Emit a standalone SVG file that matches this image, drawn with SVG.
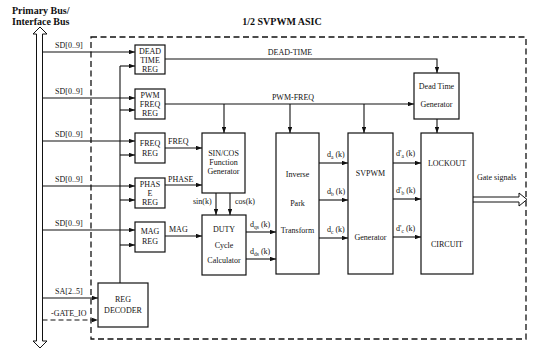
<svg xmlns="http://www.w3.org/2000/svg" width="534" height="349" viewBox="0 0 534 349">
<style>
text{font-family:"Liberation Serif","Times New Roman",serif;fill:#111;}
.t{font-size:8px;}
.b{font-weight:bold;}
.h{font-size:10px;font-weight:bold;}
.c{text-anchor:middle;}
.box{fill:#fff;stroke:#111;stroke-width:1.2;}
.ln{fill:none;stroke:#111;stroke-width:1.1;}
.ar{fill:none;stroke:#111;stroke-width:1.1;marker-end:url(#ah);}
.dash{stroke-dasharray:5 3;}
</style>
<defs>
<marker id="ah" viewBox="0 0 8 6" refX="8" refY="3" markerWidth="6" markerHeight="4.5" orient="auto" markerUnits="userSpaceOnUse">
<path d="M0,0 L8,3 L0,6 Z" fill="#111"/>
</marker>
</defs>
<rect width="534" height="349" fill="#fff"/>

<g id="header">
<text class="h" x="12" y="14">Primary Bus/</text>
<text class="h" x="12" y="25">Interface Bus</text>
<text class="h c" x="282" y="25">1/2 SVPWM ASIC</text>
</g>

<g id="asic-boundary">
<rect x="91" y="37" width="435" height="302" fill="none" stroke="#111" stroke-width="1.3" stroke-dasharray="6 3.5"/>
</g>

<g id="bus">
<path d="M36.5,34 L36.5,341 L33,341 L40,348 L47,341 L42.5,341 L42.5,34 L47,34 L40,27 L33,34 Z" fill="#fff" stroke="#111" stroke-width="1"/>
</g>

<g id="connectors">
<line class="ar" x1="42.5" y1="52" x2="135" y2="52"/>
<line class="ar" x1="42.5" y1="98" x2="135" y2="98"/>
<line class="ar" x1="42.5" y1="141" x2="135" y2="141"/>
<line class="ar" x1="42.5" y1="186" x2="135" y2="186"/>
<line class="ar" x1="42.5" y1="230" x2="135" y2="230"/>
<line class="ar" x1="42.5" y1="298" x2="98" y2="298"/>
<line class="ar dash" x1="42.5" y1="320" x2="98" y2="320"/>
<line class="ln" x1="120" y1="283" x2="120" y2="66"/>
<line class="ar" x1="120" y1="66" x2="135" y2="66"/>
<line class="ar" x1="120" y1="110" x2="135" y2="110"/>
<line class="ar" x1="120" y1="155" x2="135" y2="155"/>
<line class="ar" x1="120" y1="200" x2="135" y2="200"/>
<line class="ar" x1="120" y1="245" x2="135" y2="245"/>
<polyline class="ar" points="165,59 437,59 437,73"/>
<line class="ar" x1="165" y1="104" x2="414" y2="104"/>
<line class="ar" x1="224" y1="104" x2="224" y2="133"/>
<line class="ar" x1="290" y1="104" x2="290" y2="133"/>
<line class="ar" x1="364" y1="104" x2="364" y2="133"/>
<line class="ar" x1="437" y1="119" x2="437" y2="133"/>
<line class="ar" x1="165" y1="148" x2="202" y2="148"/>
<line class="ar" x1="165" y1="185" x2="202" y2="185"/>
<line class="ar" x1="165" y1="236" x2="202" y2="236"/>
<line class="ar" x1="216" y1="193" x2="216" y2="215"/>
<line class="ar" x1="230" y1="193" x2="230" y2="215"/>
<line class="ar" x1="246" y1="232" x2="276" y2="232"/>
<line class="ar" x1="246" y1="259" x2="276" y2="259"/>
<line class="ar" x1="319" y1="163" x2="348" y2="163"/>
<line class="ar" x1="319" y1="200" x2="348" y2="200"/>
<line class="ar" x1="319" y1="238" x2="348" y2="238"/>
<line class="ar" x1="393" y1="163" x2="421" y2="163"/>
<line class="ar" x1="393" y1="199" x2="421" y2="199"/>
<line class="ar" x1="393" y1="237" x2="421" y2="237"/>
<path d="M473,197 L519,197 L519,193 L527,199.5 L519,206 L519,202 L473,202" fill="#fff" stroke="#111" stroke-width="1"/>
</g>

<g id="connector-labels">
<text class="t" x="55" y="48">SD[0..9]</text>
<text class="t" x="55" y="94">SD[0..9]</text>
<text class="t" x="55" y="137">SD[0..9]</text>
<text class="t" x="55" y="182">SD[0..9]</text>
<text class="t" x="55" y="226">SD[0..9]</text>
<text class="t" x="55" y="294">SA[2..5]</text>
<text class="t" x="51" y="316">-GATE_IO</text>
<text class="t c" x="290" y="55">DEAD-TIME</text>
<text class="t c" x="293" y="100">PWM-FREQ</text>
<text class="t" x="168" y="144">FREQ</text>
<text class="t" x="168" y="182">PHASE</text>
<text class="t" x="169" y="232">MAG</text>
<text class="t" x="193" y="204" font-size="7">sin(k)</text>
<text class="t" x="235" y="204" font-size="7">cos(k)</text>
<text class="t" x="250" y="227">d<tspan font-size="5.5" dy="2">qs</tspan><tspan dy="-2"> (k)</tspan></text>
<text class="t" x="250" y="254">d<tspan font-size="5.5" dy="2">ds</tspan><tspan dy="-2"> (k)</tspan></text>
<text class="t" x="327" y="157">d<tspan font-size="5.5" dy="2">a</tspan><tspan dy="-2"> (k)</tspan></text>
<text class="t" x="327" y="194">d<tspan font-size="5.5" dy="2">b</tspan><tspan dy="-2"> (k)</tspan></text>
<text class="t" x="327" y="232">d<tspan font-size="5.5" dy="2">c</tspan><tspan dy="-2"> (k)</tspan></text>
<text class="t" x="396" y="156">d'<tspan font-size="5.5" dy="2">a</tspan><tspan dy="-2"> (k)</tspan></text>
<text class="t" x="396" y="193">d'<tspan font-size="5.5" dy="2">b</tspan><tspan dy="-2"> (k)</tspan></text>
<text class="t" x="396" y="231">d'<tspan font-size="5.5" dy="2">c</tspan><tspan dy="-2"> (k)</tspan></text>
<text class="t" x="477" y="180">Gate signals</text>
</g>

<g id="dead-time-reg">
<rect class="box" x="135" y="45" width="30" height="29"/>
<text class="t c" x="150" y="54">DEAD</text>
<text class="t c" x="150" y="63">TIME</text>
<text class="t c" x="150" y="72">REG</text>
</g>
<g id="pwm-freq-reg">
<rect class="box" x="135" y="89" width="30" height="30"/>
<text class="t c" x="150" y="98">PWM</text>
<text class="t c" x="150" y="107">FREQ</text>
<text class="t c" x="150" y="116">REG</text>
</g>
<g id="freq-reg">
<rect class="box" x="135" y="133" width="30" height="30"/>
<text class="t c" x="150" y="146">FREQ</text>
<text class="t c" x="150" y="156">REG</text>
</g>
<g id="phase-reg">
<rect class="box" x="135" y="178" width="30" height="30"/>
<text class="t c" x="150" y="187">PHAS</text>
<text class="t c" x="150" y="196">E</text>
<text class="t c" x="150" y="205">REG</text>
</g>
<g id="mag-reg">
<rect class="box" x="135" y="222" width="30" height="30"/>
<text class="t c" x="150" y="234">MAG</text>
<text class="t c" x="150" y="244">REG</text>
</g>
<g id="reg-decoder">
<rect class="box" x="98" y="283" width="50" height="44"/>
<text class="t c" x="123" y="302">REG</text>
<text class="t c" x="123" y="313">DECODER</text>
</g>
<g id="sincos">
<rect class="box" x="202" y="133" width="43" height="60"/>
<text class="t c" x="223.5" y="156" font-size="7.5">SIN/COS</text>
<text class="t c" x="223.5" y="165" font-size="7.5">Function</text>
<text class="t c" x="223.5" y="174" font-size="7.5">Generator</text>
</g>
<g id="duty">
<rect class="box" x="202" y="215" width="44" height="60"/>
<text class="t c" x="224" y="232">DUTY</text>
<text class="t c" x="224" y="248" font-size="7.5">Cycle</text>
<text class="t c" x="224" y="263" font-size="7.5">Calculator</text>
</g>
<g id="inverse-park">
<rect class="box" x="276" y="133" width="43" height="141"/>
<text class="t c" x="297.5" y="177" font-size="7.5">Inverse</text>
<text class="t c" x="297.5" y="206" font-size="7.5">Park</text>
<text class="t c" x="297.5" y="233" font-size="7.5">Transform</text>
</g>
<g id="svpwm">
<rect class="box" x="348" y="133" width="45" height="141"/>
<text class="t c" x="370.5" y="176">SVPWM</text>
<text class="t c" x="370.5" y="240">Generator</text>
</g>
<g id="dead-time-gen">
<rect class="box" x="414" y="73" width="45" height="46"/>
<text class="t c" x="436.5" y="89" font-size="7.5">Dead Time</text>
<text class="t c" x="436.5" y="107" font-size="7.5">Generator</text>
</g>
<g id="lockout">
<rect class="box" x="421" y="133" width="52" height="141"/>
<text class="t c" x="447" y="166">LOCKOUT</text>
<text class="t c" x="447" y="247">CIRCUIT</text>
</g>
</svg>
